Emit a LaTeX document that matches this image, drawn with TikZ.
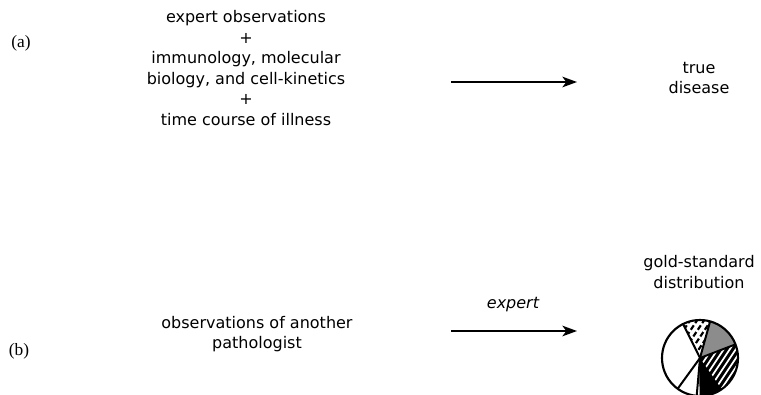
\documentclass[tikz,border=0pt]{standalone}
\usepackage{fontspec}
\newfontfamily\dvs{DejaVu Sans}
\newfontfamily\lser{Liberation Serif}
\usetikzlibrary{arrows.meta}
\begin{document}
\begin{tikzpicture}[x=0.75pt,y=-0.75pt,
  txt/.style={font=\dvs\fontsize{12}{15.4}\selectfont, align=center, inner sep=0pt},
  lbl/.style={font=\lser\fontsize{13}{15}\selectfont, inner sep=0pt},
  arr/.style={line width=1.1pt, -{Stealth[length=11pt,width=8pt,inset=3pt]}},
  spoke/.style={line width=1.5pt}]
\useasboundingbox (0,0) rectangle (761,394);
\clip (0,0) rectangle (761,394);

% (a)
\node[lbl] (la) at (21,43) {(a)};
\node[txt] (srcA) at (246,68) {expert observations\\+\\immunology, molecular\\biology, and cell-kinetics\\+\\time course of illness};
\coordinate (a1) at (451,82);
\coordinate (a2) at (577,82);
\draw[arr] (a1) -- (a2);
\node[txt] (trueD) at (699,78) {true\\disease};

% (b)
\node[lbl] (lb) at (19,351) {(b)};
\node[txt] (srcB) at (257,334) {observations of another\\pathologist};
\coordinate (b1) at (451,331);
\coordinate (b2) at (577,331);
\draw[arr] (b1) -- (b2);
\node[txt, font=\dvs\itshape\fontsize{12}{15.4}\selectfont] (exp) at (513,305) {expert};
\node[txt] (gold) at (699,272) {gold-standard\\distribution};

% pie
\begin{scope}[shift={(700,358)}, yscale=-1]
 \def\R{38}
 \fill[white] (0,0) circle[radius=\R];
 \fill[black!45] (0,0) -- (21:\R) arc[start angle=21,end angle=74.6,radius=\R] -- cycle;
 \fill[black] (0,0) -- (-89:\R) arc[start angle=-89,end angle=21,radius=\R] -- cycle;
 \begin{scope}
  \clip (0,0) -- (-55:\R) arc[start angle=-55,end angle=21,radius=\R] -- cycle;
  \foreach \k in {-12,...,12} \draw[white,line width=1.3pt] (\k*6-30,-45) -- ++(60,90);
 \end{scope}
 \begin{scope}
  \clip (0,0) -- (74.6:\R) arc[start angle=74.6,end angle=116.5,radius=\R] -- cycle;
  \foreach \k in {-12,...,12} \draw[black,line width=1.6pt,dash pattern=on 4pt off 2pt] (\k*7-30,-45) -- ++(60,90);
 \end{scope}
 \foreach \a in {116.5,74.6,21,234,265,271} \draw[spoke] (0,0) -- (\a:\R);
 \draw[line width=1.6pt] (0,0) circle[radius=\R];
\end{scope}
\end{tikzpicture}
\end{document}
